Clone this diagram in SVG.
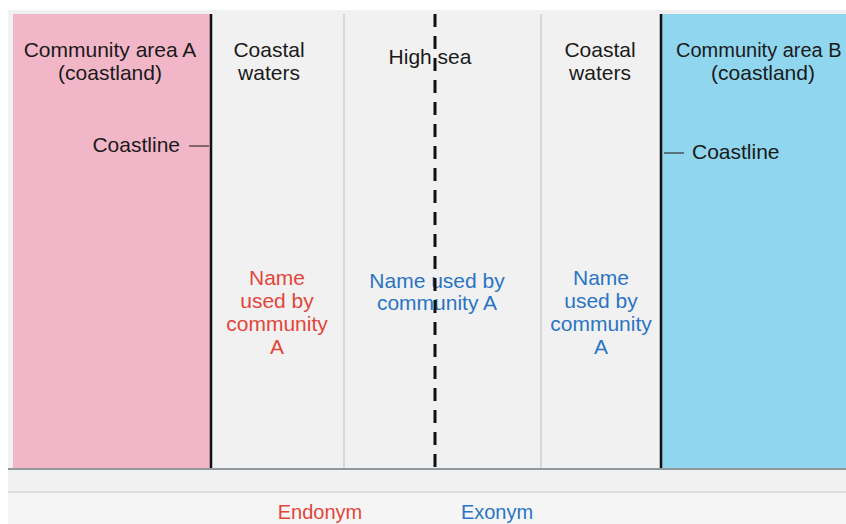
<svg xmlns="http://www.w3.org/2000/svg" width="846" height="524" viewBox="0 0 846 524">
<style>
text{font-family:"Liberation Sans",Arial,sans-serif;font-size:21px;text-anchor:middle}
.k{fill:#1a1a1a}
.r{fill:#e2453a}
.b{fill:#2a74c4}
.thin{stroke:#c8c8c8;stroke-width:1.2}
.coast{stroke:#111;stroke-width:2.5}
.tick{stroke:#333;stroke-width:1.2}
</style>
<rect x="0" y="0" width="846" height="524" fill="#ffffff"/>
<rect x="8" y="10" width="838" height="514" fill="#f1f1f1"/>
<rect x="8" y="492" width="838" height="32" fill="#f5f5f5"/>
<line x1="8" y1="492" x2="846" y2="492" stroke="#dcdcdc" stroke-width="2"/>
<g id="areaA">
<rect x="13" y="14" width="198" height="455" fill="#f2b6c9"/>
<text class="k" x="110" y="57">Community area A</text>
<text class="k" x="110" y="80">(coastland)</text>
</g>
<g id="areaB">
<rect x="661" y="14" width="185" height="455" fill="#8fd6ee"/>
<text class="k" x="676" y="57" style="text-anchor:start;font-size:20px">Community area B</text>
<text class="k" x="763" y="80">(coastland)</text>
</g>
<g id="coastalA">
<text class="k" x="269" y="57">Coastal</text>
<text class="k" x="269" y="80">waters</text>
<text class="r" x="277" y="285">Name</text>
<text class="r" x="277" y="308">used by</text>
<text class="r" x="277" y="331">community</text>
<text class="r" x="277" y="354">A</text>
</g>
<g id="highsea">
<text class="k" x="430" y="64">High sea</text>
<text class="b" x="437" y="288">Name used by</text>
<text class="b" x="437" y="310">community A</text>
</g>
<g id="coastalB">
<text class="k" x="600" y="57">Coastal</text>
<text class="k" x="600" y="80">waters</text>
<text class="b" x="601" y="285">Name</text>
<text class="b" x="601" y="308">used by</text>
<text class="b" x="601" y="331">community</text>
<text class="b" x="601" y="354">A</text>
</g>
<g id="connectors">
<line class="thin" x1="344" y1="14" x2="344" y2="469"/>
<line class="thin" x1="541" y1="14" x2="541" y2="469"/>
<line class="coast" x1="211" y1="14" x2="211" y2="469"/>
<line class="coast" x1="661" y1="14" x2="661" y2="469"/>
<line x1="435" y1="14" x2="435" y2="469" stroke="#111" stroke-width="3" stroke-dasharray="13 9"/>
<line x1="8" y1="469" x2="846" y2="469" stroke="#8f989c" stroke-width="2"/>
<line class="tick" x1="189" y1="146" x2="209" y2="146"/>
<line class="tick" x1="664" y1="153" x2="684" y2="153"/>
</g>
<g id="coastlineA"><text class="k" x="180" y="152" style="text-anchor:end">Coastline</text></g>
<g id="coastlineB"><text class="k" x="692" y="159" style="text-anchor:start">Coastline</text></g>
<g id="legend">
<text class="r" x="320" y="519" style="font-size:20px">Endonym</text>
<text class="b" x="497" y="519" style="font-size:20px">Exonym</text>
</g>
</svg>
